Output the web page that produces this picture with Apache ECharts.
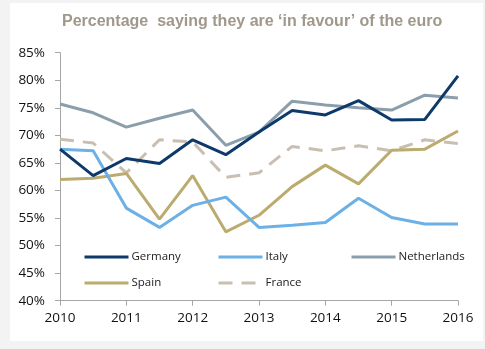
<!DOCTYPE html>
<html>
<head>
<meta charset="utf-8">
<script src="https://cdn.jsdelivr.net/npm/echarts@6/dist/echarts.min.js"></script>
<style>
  html, body { margin: 0; padding: 0; background: #f3f3f3; }
  #chart { width: 485px; height: 349px; }
</style>
</head>
<body>
<div id="chart"></div>
<script>
// Survey points, twice a year from 2010 to 2016
const periods = [2010, 2010.5, 2011, 2011.5, 2012, 2012.5, 2013, 2013.5, 2014, 2014.5, 2015, 2015.5, 2016];

const germany     = [67.5, 62.7, 65.8, 64.9, 69.2, 66.5, 70.6, 74.5, 73.7, 76.3, 72.8, 72.9, 80.8];
const italy       = [67.5, 67.2, 56.8, 53.3, 57.3, 58.8, 53.3, 53.7, 54.2, 58.6, 55.1, 53.9, 53.9];
const netherlands = [75.7, 74.1, 71.5, 73.1, 74.6, 68.2, 70.6, 76.2, 75.5, 75.0, 74.6, 77.3, 76.8];
const spain       = [62.0, 62.2, 63.1, 54.8, 62.7, 52.5, 55.5, 60.7, 64.6, 61.2, 67.3, 67.5, 70.8];
const france      = [69.3, 68.6, 63.2, 69.2, 68.8, 62.4, 63.2, 68.0, 67.2, 68.1, 67.2, 69.2, 68.5];

const yearTicks = [2010, 2011, 2012, 2013, 2014, 2015, 2016];
const titleText = 'Percentage  saying they are \u2018in favour\u2019 of the euro';

const pairs = vals => vals.map((v, i) => [periods[i], v]);

const font = '"Open Sans", sans-serif';

function lineSeries(name, vals, color, dash) {
  return {
    name: name,
    type: 'line',
    data: pairs(vals),
    symbol: 'none',
    smooth: false,
    lineStyle: { color: color, width: 3, type: dash || 'solid', cap: 'butt' },
    itemStyle: { color: color }
  };
}

function legendAt(name, left, top) {
  return {
    data: [name],
    left: left,
    top: top,
    padding: 0,
    itemWidth: 44,
    itemHeight: 10,
    itemGap: 0,
    itemStyle: { opacity: 0, borderWidth: 0 },
    lineStyle: { width: 3 },
    textStyle: { fontFamily: font, fontSize: 11.5, color: '#222', padding: [0, 0, 0, -2] },
    selectedMode: false
  };
}

const chart = echarts.init(document.getElementById('chart'), null, { renderer: 'canvas' });
chart.setOption({
  animation: false,
  backgroundColor: '#f3f3f3',
  graphic: [{
    type: 'rect',
    shape: { x: 10, y: 3, width: 473, height: 338 },
    style: { fill: '#ffffff' },
    z: -10
  }],
  title: {
    text: titleText,
    left: 62,
    top: 14,
    padding: 0,
    textStyle: { fontFamily: '"Liberation Sans", Arial, sans-serif', fontSize: 16, fontWeight: 'bold', color: '#a0988a' }
  },
  legend: [
    legendAt('Germany', 83, 251),
    legendAt('Italy', 217, 251),
    legendAt('Netherlands', 350, 251),
    legendAt('Spain', 83, 277),
    legendAt('France', 217, 277)
  ],
  grid: { left: 60, right: 27, top: 52.7, bottom: 48.3, containLabel: false },
  xAxis: {
    type: 'value',
    min: 2010,
    max: 2016,
    interval: 1,
    axisLine: { show: true, lineStyle: { color: '#a6a6a6', width: 1 } },
    axisTick: { show: true, length: 5, lineStyle: { color: '#a6a6a6' } },
    splitLine: { show: false },
    axisLabel: {
      margin: 10,
      fontFamily: font,
      fontSize: 13.5,
      color: '#111',
      formatter: v => (yearTicks.includes(v) ? String(v) : '')
    }
  },
  yAxis: {
    type: 'value',
    min: 40,
    max: 85,
    interval: 5,
    axisLine: { show: true, lineStyle: { color: '#a6a6a6', width: 1 } },
    axisTick: { show: true, length: 5, lineStyle: { color: '#a6a6a6' } },
    splitLine: { show: false },
    axisLabel: {
      margin: 15,
      fontFamily: font,
      fontSize: 13.5,
      color: '#111',
      formatter: '{value}%'
    }
  },
  series: [
    lineSeries('Netherlands', netherlands, '#8a9eab'),
    lineSeries('France', france, '#c9beb2', [14, 9]),
    lineSeries('Spain', spain, '#bcab6e'),
    lineSeries('Italy', italy, '#6cb0e6'),
    lineSeries('Germany', germany, '#0d3a6a')
  ]
});
</script>
</body>
</html>
